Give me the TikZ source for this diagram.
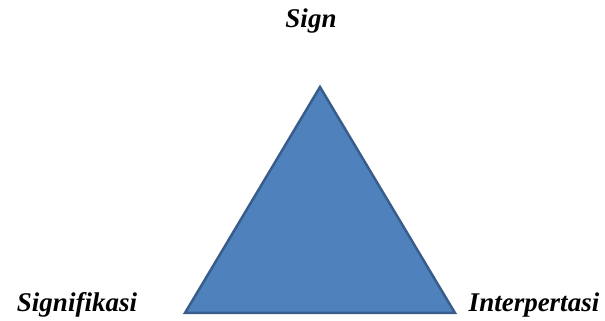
\documentclass[tikz,border=0pt]{standalone}
\usepackage{fontspec}
\setmainfont{Liberation Serif}
\definecolor{trifill}{HTML}{4F81BD}
\definecolor{triedge}{HTML}{385D8A}
\begin{document}
\begin{tikzpicture}[x=1pt,y=1pt,
  lbl/.style={anchor=base,inner sep=0pt,font=\fontsize{27}{31}\selectfont\bfseries\itshape}]
\useasboundingbox (0,0) rectangle (605,321);
\coordinate (apex) at (320,234);
\coordinate (bl) at (185,8);
\coordinate (br) at (455,8);
\draw[fill=trifill,draw=triedge,line width=2.5pt,line join=miter] (apex) -- (bl) -- (br) -- cycle;
\node[lbl] (sign) at (311,293) {Sign};
\node[lbl] (signif) at (77,9) {Signifikasi};
\node[lbl] (interp) at (534,9) {Interpertasi};
\end{tikzpicture}
\end{document}
